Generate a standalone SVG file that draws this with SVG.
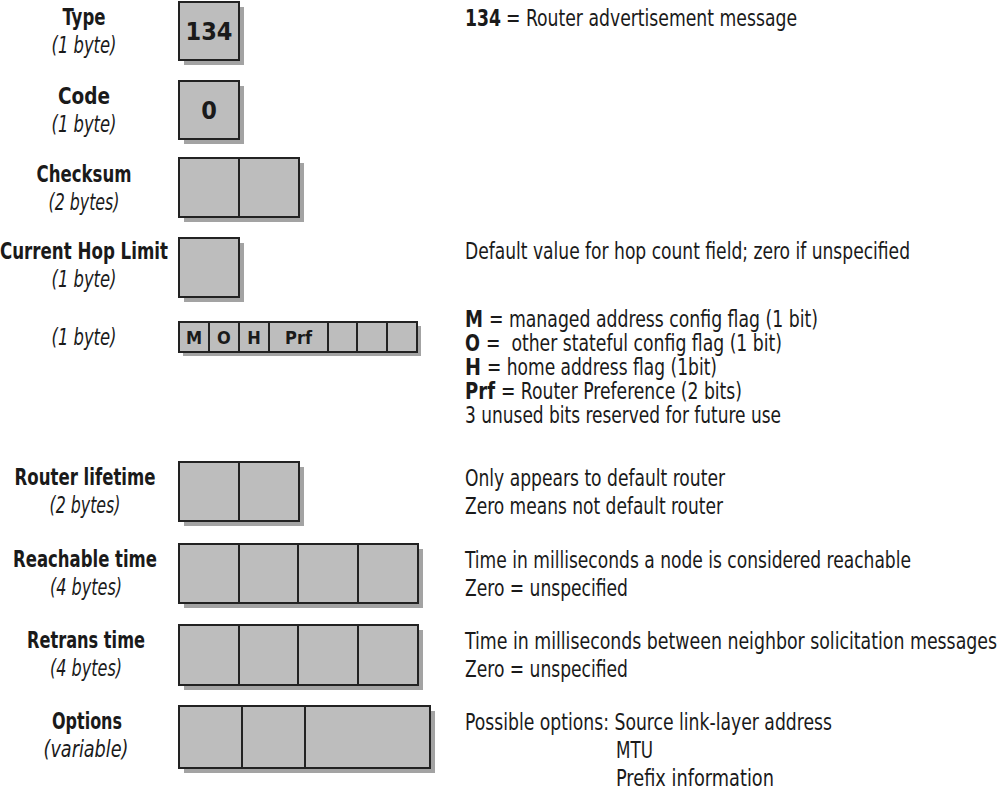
<svg xmlns="http://www.w3.org/2000/svg" width="1000" height="798" viewBox="0 0 1000 798">
<style>
text{font-family:"Liberation Sans Narrow","DejaVu Sans Condensed","Liberation Sans",sans-serif;fill:#1a1a1a;white-space:pre}
.lb{font-size:23px;font-weight:bold;text-anchor:middle}
.li{font-size:23px;font-style:italic;text-anchor:middle}
.rt{font-size:23px}
.b{font-weight:bold}
.num{font-size:25px;font-weight:bold;text-anchor:middle}
.flag{font-size:18px;font-weight:bold;text-anchor:middle}
.box{fill:#bdbdbd;stroke:#222;stroke-width:2}
.sh{fill:#a3a3a3}
.div{stroke:#222;stroke-width:2}
</style>
<rect width="1000" height="798" fill="#fff"/>

<g id="type">
<text class="lb" x="84" y="25" textLength="43" lengthAdjust="spacingAndGlyphs">Type</text>
<text class="li" x="84" y="53" textLength="65" lengthAdjust="spacingAndGlyphs">(1 byte)</text>
<rect class="sh" x="184" y="7" width="60" height="58"/>
<rect class="box" x="179" y="2" width="60" height="58"/>
<text class="num" x="209" y="40">134</text>
<text class="rt b" x="465" y="26" textLength="36" lengthAdjust="spacingAndGlyphs">134</text>
<text class="rt" x="506" y="26" textLength="291" lengthAdjust="spacingAndGlyphs">= Router advertisement message</text>
</g>

<g id="code">
<text class="lb" x="84" y="104" textLength="52" lengthAdjust="spacingAndGlyphs">Code</text>
<text class="li" x="84" y="132" textLength="65" lengthAdjust="spacingAndGlyphs">(1 byte)</text>
<rect class="sh" x="184" y="86" width="60" height="58"/>
<rect class="box" x="179" y="81" width="60" height="58"/>
<text class="num" x="209" y="119">0</text>
</g>

<g id="checksum">
<text class="lb" x="84" y="182" textLength="95" lengthAdjust="spacingAndGlyphs">Checksum</text>
<text class="li" x="84" y="210" textLength="71" lengthAdjust="spacingAndGlyphs">(2 bytes)</text>
<rect class="sh" x="184" y="163" width="120" height="59"/>
<rect class="box" x="179" y="158" width="120" height="59"/>
<line class="div" x1="239" y1="158" x2="239" y2="217"/>
</g>

<g id="hoplimit">
<text class="lb" x="84" y="259" textLength="168" lengthAdjust="spacingAndGlyphs">Current Hop Limit</text>
<text class="li" x="84" y="287" textLength="65" lengthAdjust="spacingAndGlyphs">(1 byte)</text>
<rect class="sh" x="184" y="243" width="60" height="59"/>
<rect class="box" x="179" y="238" width="60" height="59"/>
<text class="rt" transform="translate(465,259) scale(0.82,1)" x="0" y="0" textLength="542.7" lengthAdjust="spacingAndGlyphs">Default value for hop count field; zero if unspecified</text>
</g>

<g id="flags">
<text class="li" x="84" y="345" textLength="65" lengthAdjust="spacingAndGlyphs">(1 byte)</text>
<rect class="sh" x="183" y="326" width="238" height="30"/>
<rect class="box" x="179" y="322" width="238" height="30"/>
<line class="div" x1="209" y1="322" x2="209" y2="352"/>
<line class="div" x1="239" y1="322" x2="239" y2="352"/>
<line class="div" x1="269" y1="322" x2="269" y2="352"/>
<line class="div" x1="328" y1="322" x2="328" y2="352"/>
<line class="div" x1="357" y1="322" x2="357" y2="352"/>
<line class="div" x1="387" y1="322" x2="387" y2="352"/>
<text class="flag" x="194" y="344">M</text>
<text class="flag" x="224" y="344">O</text>
<text class="flag" x="254" y="344">H</text>
<text class="flag" x="298.5" y="344">Prf</text>
<text class="rt b" x="465" y="327" textLength="18" lengthAdjust="spacingAndGlyphs">M</text>
<text class="rt" x="489" y="327" textLength="329" lengthAdjust="spacingAndGlyphs">= managed address config flag (1 bit)</text>
<text class="rt b" x="465" y="351" textLength="15" lengthAdjust="spacingAndGlyphs">O</text>
<text class="rt" x="486" y="351" textLength="296" lengthAdjust="spacingAndGlyphs">=  other stateful config flag (1 bit)</text>
<text class="rt b" x="465" y="375" textLength="16" lengthAdjust="spacingAndGlyphs">H</text>
<text class="rt" x="487" y="375" textLength="230" lengthAdjust="spacingAndGlyphs">= home address flag (1bit)</text>
<text class="rt b" x="465" y="399" textLength="30" lengthAdjust="spacingAndGlyphs">Prf</text>
<text class="rt" x="501" y="399" textLength="241" lengthAdjust="spacingAndGlyphs">= Router Preference (2 bits)</text>
<text class="rt" x="465" y="423" textLength="316" lengthAdjust="spacingAndGlyphs">3 unused bits reserved for future use</text>
</g>

<g id="routerlifetime">
<text class="lb" x="85" y="485" textLength="141" lengthAdjust="spacingAndGlyphs">Router lifetime</text>
<text class="li" x="85" y="513" textLength="71" lengthAdjust="spacingAndGlyphs">(2 bytes)</text>
<rect class="sh" x="184" y="467" width="120" height="59"/>
<rect class="box" x="179" y="462" width="120" height="59"/>
<line class="div" x1="239" y1="462" x2="239" y2="521"/>
<text class="rt" x="465" y="486" textLength="260" lengthAdjust="spacingAndGlyphs">Only appears to default router</text>
<text class="rt" x="465" y="514" textLength="258" lengthAdjust="spacingAndGlyphs">Zero means not default router</text>
</g>

<g id="reachable">
<text class="lb" x="85" y="567" textLength="144" lengthAdjust="spacingAndGlyphs">Reachable time</text>
<text class="li" x="86" y="595" textLength="72" lengthAdjust="spacingAndGlyphs">(4 bytes)</text>
<rect class="sh" x="184" y="549" width="239" height="59"/>
<rect class="box" x="179" y="544" width="239" height="59"/>
<line class="div" x1="239" y1="544" x2="239" y2="603"/>
<line class="div" x1="298" y1="544" x2="298" y2="603"/>
<line class="div" x1="358" y1="544" x2="358" y2="603"/>
<text class="rt" transform="translate(465,568) scale(0.82,1)" x="0" y="0" textLength="543.9" lengthAdjust="spacingAndGlyphs">Time in milliseconds a node is considered reachable</text>
<text class="rt" x="465" y="596" textLength="163" lengthAdjust="spacingAndGlyphs">Zero = unspecified</text>
</g>

<g id="retrans">
<text class="lb" x="86" y="648" textLength="118" lengthAdjust="spacingAndGlyphs">Retrans time</text>
<text class="li" x="86" y="676" textLength="72" lengthAdjust="spacingAndGlyphs">(4 bytes)</text>
<rect class="sh" x="184" y="630" width="239" height="60"/>
<rect class="box" x="179" y="625" width="239" height="60"/>
<line class="div" x1="239" y1="625" x2="239" y2="685"/>
<line class="div" x1="298" y1="625" x2="298" y2="685"/>
<line class="div" x1="358" y1="625" x2="358" y2="685"/>
<text class="rt" transform="translate(465,649) scale(0.82,1)" x="0" y="0" textLength="648.8" lengthAdjust="spacingAndGlyphs">Time in milliseconds between neighbor solicitation messages</text>
<text class="rt" x="465" y="677" textLength="163" lengthAdjust="spacingAndGlyphs">Zero = unspecified</text>
</g>

<g id="options">
<text class="lb" x="87" y="729" textLength="70" lengthAdjust="spacingAndGlyphs">Options</text>
<text class="li" x="86" y="757" textLength="85" lengthAdjust="spacingAndGlyphs">(variable)</text>
<rect class="sh" x="184" y="711" width="251" height="62"/>
<rect class="box" x="179" y="706" width="251" height="62"/>
<line class="div" x1="242" y1="706" x2="242" y2="768"/>
<line class="div" x1="305" y1="706" x2="305" y2="768"/>
<text class="rt" x="465" y="730" textLength="367" lengthAdjust="spacingAndGlyphs">Possible options: Source link-layer address</text>
<text class="rt" x="616" y="758" textLength="37" lengthAdjust="spacingAndGlyphs">MTU</text>
<text class="rt" x="616" y="786" textLength="158" lengthAdjust="spacingAndGlyphs">Prefix information</text>
</g>

<g id="connectors"></g>
</svg>
